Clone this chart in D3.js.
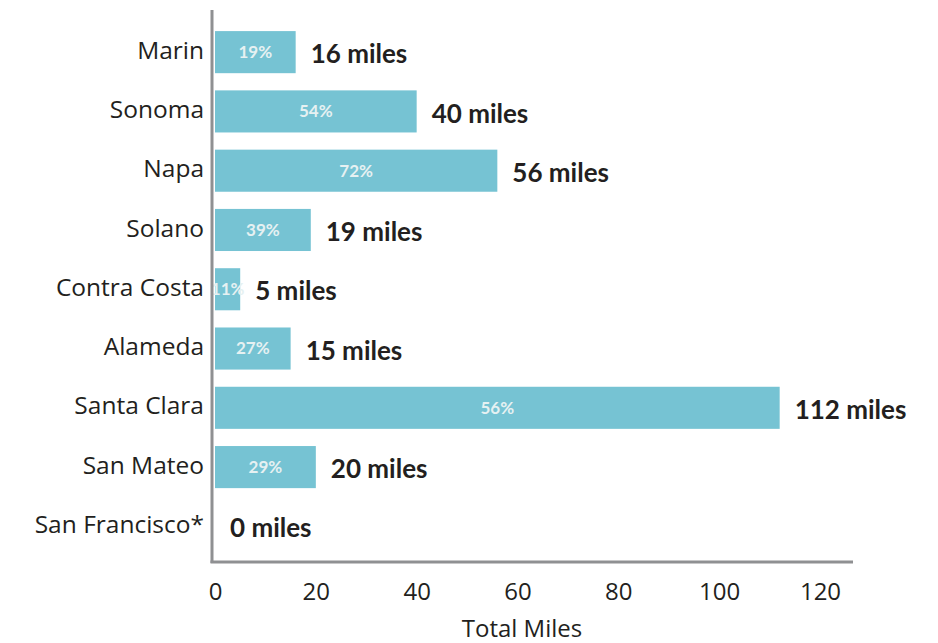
<!DOCTYPE html>
<html><head><meta charset="utf-8">
<script src="https://cdn.jsdelivr.net/npm/d3@7"></script>
<style>body{margin:0;background:#fff}svg{display:block}</style>
</head><body>
<svg id="c" width="938" height="643"></svg>
<script>
const categories = ["Marin","Sonoma","Napa","Solano","Contra Costa","Alameda","Santa Clara","San Mateo","San Francisco*"];
const miles = [16,40,56,19,5,15,112,20,0];
const percents = ["19%","54%","72%","39%","11%","27%","56%","29%",""];
const xTicks = [0,20,40,60,80,100,120];
const xTitle = "Total Miles";

const svg = d3.select("#c");
const font = "Lato, 'Open Sans', sans-serif";
const font2 = "'Open Sans', sans-serif";
const x = d3.scaleLinear().domain([0,120]).range([215,820]);
const y = d3.scaleBand().domain(categories).range([22.5, 556]).paddingInner(0.29).paddingOuter(0.145);

// bars
svg.append("g").selectAll("rect").data(categories).join("rect")
  .attr("x", x(0))
  .attr("y", d => y(d))
  .attr("width", (d,i) => x(miles[i]) - x(0))
  .attr("height", y.bandwidth())
  .attr("fill", "#76c3d3");

// percent labels
svg.append("g").selectAll("text").data(categories).join("text")
  .attr("x", (d,i) => (x(0) + x(miles[i]))/2)
  .attr("y", d => y(d) + y.bandwidth()/2)
  .attr("dy", "0.35em")
  .attr("text-anchor", "middle")
  .attr("font-family", font).attr("font-weight", 700).attr("font-size", 17)
  .attr("fill", "#e6f1f2")
  .text((d,i) => percents[i]);

// value labels
svg.append("g").selectAll("text").data(categories).join("text")
  .attr("x", (d,i) => x(miles[i]) + 15)
  .attr("y", d => y(d) + y.bandwidth()/2 + 2)
  .attr("dy", "0.35em")
  .attr("font-family", font).attr("font-weight", 700).attr("font-size", 26)
  .attr("fill", "#231f20")
  .text((d,i) => miles[i] + " miles");

// category labels
svg.append("g").selectAll("text").data(categories).join("text")
  .attr("x", 204)
  .attr("y", d => y(d) + y.bandwidth()/2 - 2)
  .attr("dy", "0.35em")
  .attr("text-anchor", "end")
  .attr("font-family", font2).attr("font-size", 24.5)
  .attr("fill", "#231f20")
  .text(d => d);

// axes lines
svg.append("line").attr("x1",212).attr("x2",212).attr("y1",10).attr("y2",563)
  .attr("stroke","#8f9092").attr("stroke-width",3);
svg.append("line").attr("x1",210.5).attr("x2",853).attr("y1",562).attr("y2",562)
  .attr("stroke","#8f9092").attr("stroke-width",3);

// x axis tick labels via d3 axis
const xAxis = d3.axisBottom(x).tickValues(xTicks).tickSize(0).tickPadding(0);
const gx = svg.append("g").attr("transform","translate(0,583)").call(xAxis);
gx.select(".domain").remove();
gx.selectAll("text").attr("font-family", font2).attr("font-size", 24).attr("fill","#231f20").attr("dy","0.71em");

svg.append("text").attr("x", 522).attr("y", 637)
  .attr("text-anchor","middle")
  .attr("font-family", font2).attr("font-size", 24).attr("fill","#231f20")
  .text(xTitle);
</script>
</body></html>
